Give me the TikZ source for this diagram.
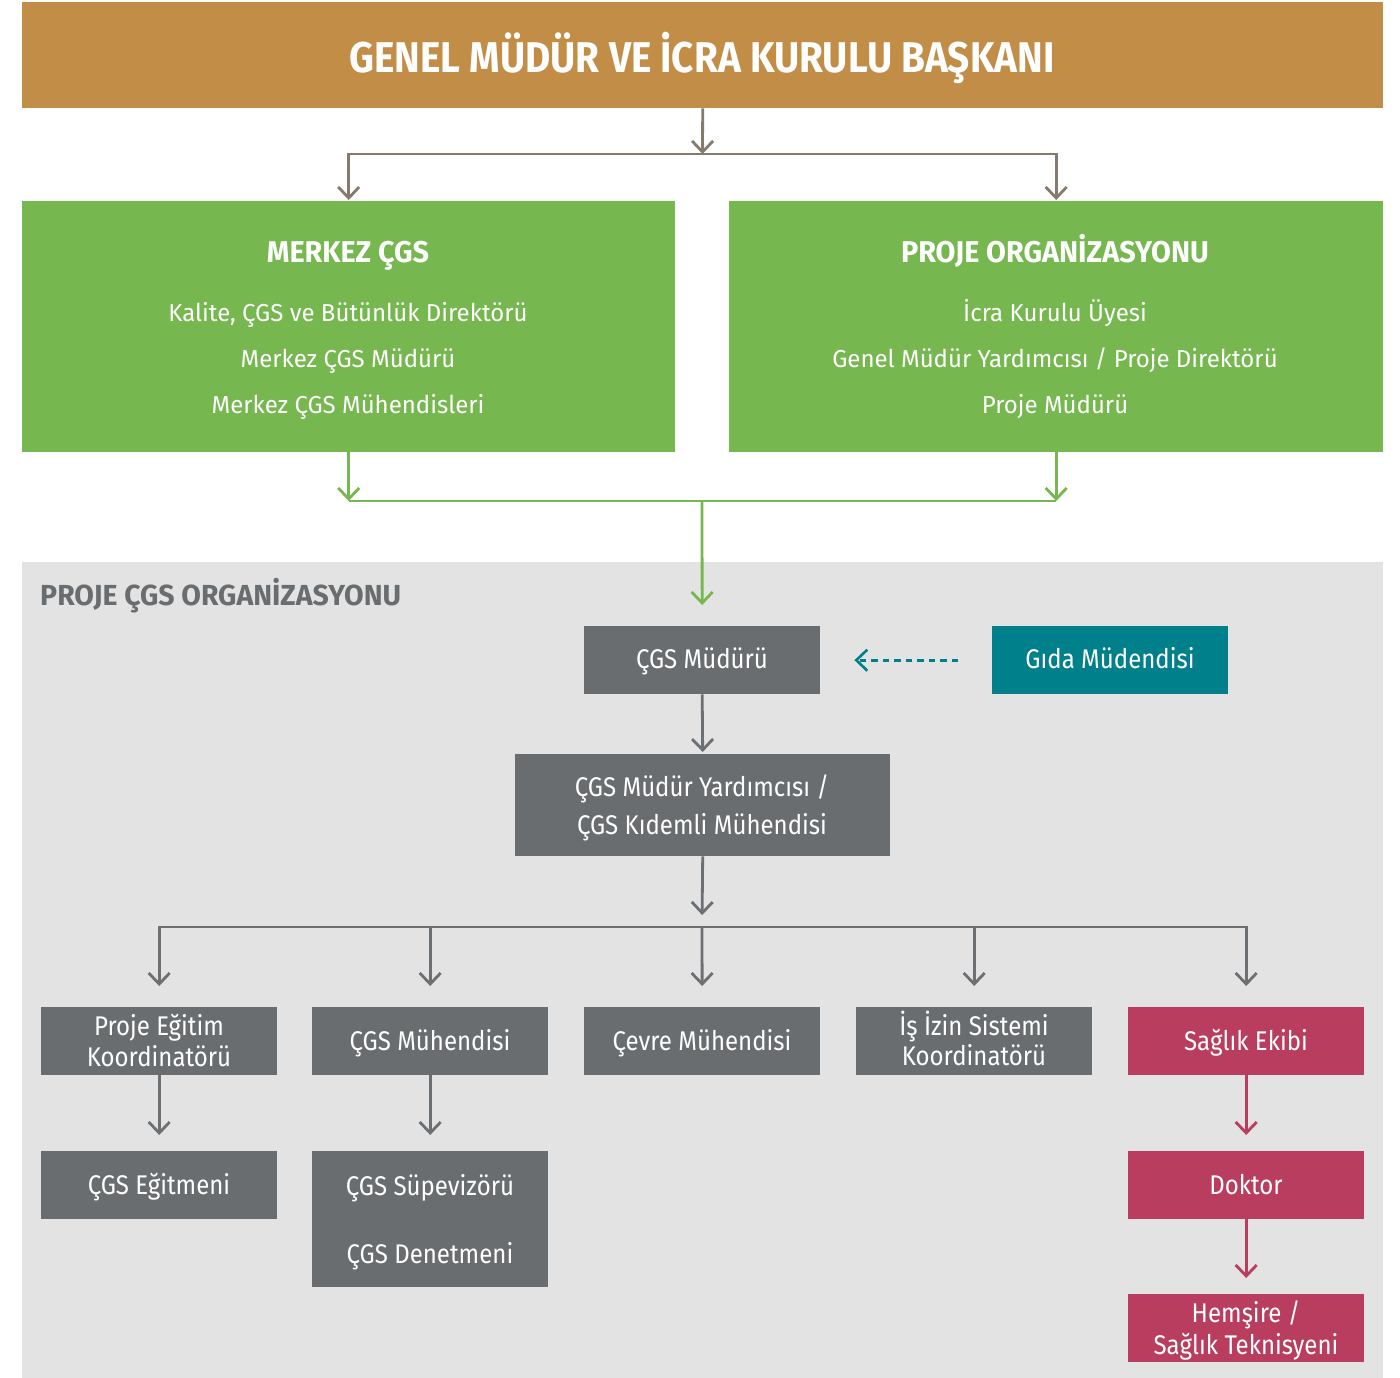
\documentclass[tikz,border=0pt]{standalone}
\usepackage{fontspec}
\setmainfont{Fira Sans}
\newfontfamily\ftitle{Fira Sans}[FakeStretch=0.90]
\newfontfamily\fhead{Fira Sans}[FakeStretch=0.96]
\newfontfamily\fbody{Fira Sans}[FakeStretch=0.98]
\newfontfamily\fcard{Fira Sans}[FakeStretch=0.89]
\usetikzlibrary{arrows.meta}
\definecolor{topc}{HTML}{C28D47}
\definecolor{greenc}{HTML}{76B74F}
\definecolor{bgc}{HTML}{E3E3E3}
\definecolor{darkc}{HTML}{6A6D70}
\definecolor{tealc}{HTML}{00808B}
\definecolor{pinkc}{HTML}{B93D5E}
\definecolor{brownc}{HTML}{857A6E}
\definecolor{linec}{HTML}{6D7073}
\begin{document}
\begin{tikzpicture}[x=1pt,y=-1pt,
  barb/.tip={Straight Barb[length=11pt,width=21pt]},
  panel/.style={inner sep=0pt, draw=none, anchor=north west},
  card/.style={panel, minimum width=236pt, minimum height=68pt},
  txt/.style={inner sep=0pt, anchor=base, text=white, font=\fcard\fontsize{27}{30}\selectfont},
  gtxt/.style={inner sep=0pt, anchor=base, text=white, font=\fbody\fontsize{24.5}{28}\selectfont},
  htxt/.style={inner sep=0pt, anchor=base, text=white, font=\fhead\bfseries\fontsize{30}{34}\selectfont},
  brn/.style={draw=brownc, line width=2.8pt, -barb},
  grn/.style={draw=greenc, line width=2.8pt, -barb},
  gar/.style={draw=linec, line width=2.8pt, -barb},
  par/.style={draw=pinkc, line width=2.8pt, -barb},
]
\useasboundingbox (0,0) rectangle (1400,1378);

% background region
\node[panel, fill=bgc, minimum width=1361pt, minimum height=816pt] (region) at (22,562) {};

% top
\node[panel, fill=topc, minimum width=1361pt, minimum height=106pt] (top) at (22,2) {};
\node[inner sep=0pt, anchor=base, text=white, font=\ftitle\bfseries\fontsize{43}{46}\selectfont] (toptxt) at (702,73) {GENEL MÜDÜR VE İCRA KURULU BAŞKANI};

% green panels
\node[panel, fill=greenc, minimum width=653pt, minimum height=251pt] (merkez) at (22,201) {};
\node[panel, fill=greenc, minimum width=654pt, minimum height=251pt] (proje) at (729,201) {};
\node[htxt] (m0) at (348,262) {MERKEZ ÇGS};
\node[gtxt] (m1) at (348,321) {Kalite, ÇGS ve Bütünlük Direktörü};
\node[gtxt] (m2) at (348,367) {Merkez ÇGS Müdürü};
\node[gtxt] (m3) at (348,413) {Merkez ÇGS Mühendisleri};
\node[htxt] (p0) at (1055,262) {PROJE ORGANİZASYONU};
\node[gtxt] (p1) at (1055,321) {İcra Kurulu Üyesi};
\node[gtxt] (p2) at (1055,367) {Genel Müdür Yardımcısı / Proje Direktörü};
\node[gtxt] (p3) at (1055,413) {Proje Müdürü};

% region header
\node[inner sep=0pt, anchor=base west, text=darkc, font=\fbody\bfseries\fontsize{29}{32}\selectfont] (hdr) at (40,605) {PROJE ÇGS ORGANİZASYONU};

% boxes
\node[card, fill=darkc] (mudur) at (584,626) {};
\node[txt] at (702,668) {ÇGS Müdürü};
\node[card, fill=tealc] (gida) at (992,626) {};
\node[txt] at (1110,668) {Gıda Müdendisi};
\node[panel, fill=darkc, minimum width=375pt, minimum height=102pt] (yard) at (515,754) {};
\node[txt] at (702,796) {ÇGS Müdür Yardımcısı /};
\node[txt] at (702,834) {ÇGS Kıdemli Mühendisi};

\node[card, fill=darkc] (r1) at (41,1007) {};
\node[txt] at (159,1035) {Proje Eğitim};
\node[txt] at (159,1066) {Koordinatörü};
\node[card, fill=darkc] (r2) at (312,1007) {};
\node[txt] at (430,1050) {ÇGS Mühendisi};
\node[card, fill=darkc] (r3) at (584,1007) {};
\node[txt] at (702,1050) {Çevre Mühendisi};
\node[card, fill=darkc] (r4) at (856,1007) {};
\node[txt] at (974,1035) {İş İzin Sistemi};
\node[txt] at (974,1065) {Koordinatörü};
\node[card, fill=pinkc] (r5) at (1128,1007) {};
\node[txt] at (1246,1050) {Sağlık Ekibi};

\node[card, fill=darkc] (e1) at (41,1151) {};
\node[txt] at (159,1194) {ÇGS Eğitmeni};
\node[panel, fill=darkc, minimum width=236pt, minimum height=136pt] (e2) at (312,1151) {};
\node[txt] at (430,1195) {ÇGS Süpevizörü};
\node[txt] at (430,1263) {ÇGS Denetmeni};
\node[card, fill=pinkc] (e5) at (1128,1151) {};
\node[txt] at (1246,1194) {Doktor};
\node[card, fill=pinkc] (h5) at (1128,1294) {};
\node[txt] at (1246,1322) {Hemşire /};
\node[txt] at (1246,1354) {Sağlık Teknisyeni};

% top connectors
\coordinate (tb) at (702.5,154);
\draw[brn] (top.south) -- (tb);
\draw[brn, shorten >=1pt] (tb) -| (merkez.north);
\draw[brn, shorten >=1pt] (tb) -| (proje.north);

% green connectors
\coordinate (gb) at (702,501);
\draw[grn] (merkez.south) -- (merkez.south |- gb);
\draw[grn] (proje.south) -- (proje.south |- gb);
\draw[draw=greenc, line width=2.8pt] (merkez.south |- gb) -- (proje.south |- gb);
\draw[grn, shorten >=21pt] (gb) -- (mudur.north);

% dashed teal
\draw[draw=tealc, line width=2.6pt, dash pattern=on 6.5pt off 5pt, -barb, shorten <=34pt, shorten >=34pt] (gida.west) -- (mudur.east);

% gray connectors
\draw[gar, shorten >=2pt] (mudur.south) -- (yard.north);
\coordinate (rb) at (702,927);
\draw[gar, shorten >=12pt] (yard.south) -- (rb);
\draw[gar, shorten >=21pt] (rb) -| (r1.north);
\draw[gar, shorten >=21pt] (rb) -| (r5.north);
\draw[gar, shorten >=21pt] (r2.north |- rb) -- (r2.north);
\draw[gar, shorten >=21pt] (rb) -- (r3.north);
\draw[gar, shorten >=21pt] (r4.north |- rb) -- (r4.north);
\draw[gar, shorten >=16pt] (r1.south) -- (e1.north);
\draw[gar, shorten >=16pt] (r2.south) -- (e2.north);
\draw[par, shorten >=16pt] (r5.south) -- (e5.north);
\draw[par, shorten >=16pt] (e5.south) -- (h5.north);
\end{tikzpicture}
\end{document}
